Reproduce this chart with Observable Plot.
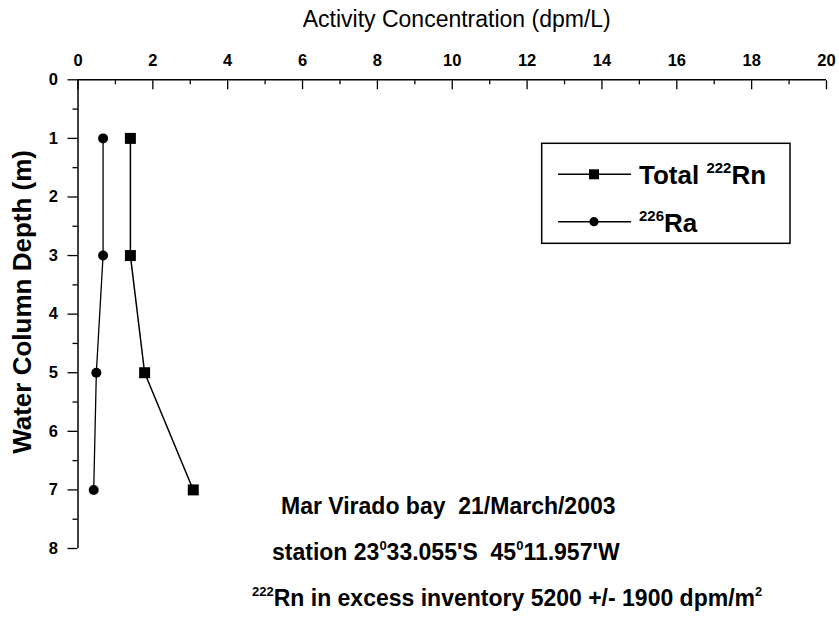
<!DOCTYPE html>
<html><head><meta charset="utf-8">
<script src="https://cdn.jsdelivr.net/npm/d3@7"></script>
<script src="https://cdn.jsdelivr.net/npm/@observablehq/plot@0.6"></script>
<style>
body{margin:0;background:#fff;}
#chart svg{display:block;}
</style></head><body><div id="chart"></div>
<script>
// ---- data ----
const depths = [1, 3, 5, 7];
const rnTotal = [1.40, 1.40, 1.78, 3.08];
const ra226 = [0.67, 0.67, 0.49, 0.42];
const xTicks = [0, 2, 4, 6, 8, 10, 12, 14, 16, 18, 20];
const xMinor = [1, 3, 5, 7, 9, 11, 13, 15, 17, 19];
const yTicks = [0, 1, 2, 3, 4, 5, 6, 7, 8];
const yMinor = [0.5, 1.5, 2.5, 3.5, 4.5, 5.5, 6.5, 7.5];
const xTitle = "Activity Concentration (dpm/L)";
const yTitle = "Water Column Depth (m)";
const legendRn = [{t: "Total "}, {t: "222", sup: true}, {t: "Rn"}];
const legendRa = [{t: "226", sup: true}, {t: "Ra"}];
const note1 = [{t: "Mar Virado bay  21/March/2003"}];
const note2 = [{t: "station 23"}, {t: "0", sup: true}, {t: "33.055'S  45"}, {t: "0", sup: true}, {t: "11.957'W"}];
const note3 = [{t: "222", sup: true}, {t: "Rn in excess inventory 5200 +/- 1900 dpm/m"}, {t: "2", sup: true}];

const rnRows = depths.map((d, i) => ({depth: d, value: rnTotal[i]}));
const raRows = depths.map((d, i) => ({depth: d, value: ra226[i]}));

const FONT = "'Liberation Sans', Arial, Helvetica, sans-serif";
const W = 839, H = 618;
const fmt = d => String(d);

const chart = Plot.plot({
  width: W, height: H,
  marginLeft: 77.5, marginRight: 13, marginTop: 79.3, marginBottom: 70,
  x: {domain: [0, 20], label: null},
  y: {domain: [0, 8], reverse: true, label: null},
  style: {fontFamily: FONT, fontSize: "16.5px", color: "#000", background: "#fff"},
  marks: [
    Plot.axisX(xTicks, {anchor: "top", tickSize: 0, tickPadding: 14, fontWeight: "bold", tickFormat: fmt, label: null}),
    Plot.axisX(xTicks, {anchor: "top", tickSize: -9, text: null, label: null, strokeWidth: 1.3}),
    Plot.axisX(xMinor, {anchor: "top", tickSize: -4, text: null, label: null, strokeWidth: 1.3}),
    Plot.axisY(yTicks, {anchor: "left", tickSize: 0, tickPadding: 20, fontWeight: "bold", tickFormat: fmt, label: null}),
    Plot.axisY(yTicks, {anchor: "left", tickSize: 10, text: null, label: null, strokeWidth: 1.3}),
    Plot.axisY(yMinor, {anchor: "left", tickSize: 5, text: null, label: null, strokeWidth: 1.3}),
    Plot.ruleY([0], {stroke: "#000", strokeWidth: 1.5}),
    Plot.ruleX([0], {stroke: "#000", strokeWidth: 1.5}),
    Plot.line(rnRows, {x: "value", y: "depth", stroke: "#000", strokeWidth: 1.5}),
    Plot.line(raRows, {x: "value", y: "depth", stroke: "#000", strokeWidth: 1.3}),
    Plot.dot(rnRows, {x: "value", y: "depth", symbol: "square", r: 6.2, fill: "#000", stroke: null}),
    Plot.dot(raRows, {x: "value", y: "depth", symbol: "circle", r: 5, fill: "#000", stroke: null})
  ]
});
document.getElementById("chart").appendChild(chart);

const svg = d3.select(chart);
const xs = chart.scale("x"), ys = chart.scale("y");
const g = svg.append("g").attr("font-family", FONT).attr("fill", "#000");

function rich(parent, x, y, parts, size, supSize, weight, anchor = "start") {
  const t = parent.append("text").attr("x", x).attr("y", y)
    .attr("font-size", size).attr("font-weight", weight).attr("text-anchor", anchor);
  const lift = size * 0.42;
  let up = false;
  for (const p of parts) {
    const ts = t.append("tspan").text(p.t);
    if (p.sup) {
      ts.attr("font-size", supSize);
      if (!up) ts.attr("dy", -lift);
      up = true;
    } else {
      if (up) ts.attr("dy", lift);
      up = false;
    }
  }
  return t;
}

// axis titles
const xMid = (xs.apply(0) + xs.apply(20)) / 2;
rich(g, xMid + 5, 27, [{t: xTitle}], 23, 14, "normal", "middle");
rich(g, 0, 0, [{t: yTitle}], 26, 16, "bold", "middle")
  .attr("transform", `translate(31,${ys.apply(3.8)}) rotate(-90)`);

// legend
const lg = g.append("g");
lg.append("rect").attr("x", 541.7).attr("y", 143.3).attr("width", 248.3).attr("height", 100)
  .attr("fill", "#fff").attr("stroke", "#000").attr("stroke-width", 1.5);
const rows = [{y: 174.3, sym: "square", parts: legendRn, base: 184},
              {y: 221.7, sym: "circle", parts: legendRa, base: 232}];
for (const r of rows) {
  lg.append("line").attr("x1", 558).attr("x2", 631).attr("y1", r.y).attr("y2", r.y)
    .attr("stroke", "#000").attr("stroke-width", 1.4);
  if (r.sym === "square") lg.append("rect").attr("x", 594 - 5).attr("y", r.y - 5).attr("width", 10).attr("height", 10);
  else lg.append("circle").attr("cx", 594).attr("cy", r.y).attr("r", 4.6);
  rich(lg, 639, r.base, r.parts, 26, 15, "bold");
}

// annotations
rich(g, 281, 514, note1, 23, 13, "bold");
rich(g, 272, 560, note2, 23, 13, "bold");
rich(g, 252, 606, note3, 23, 13, "bold");
</script></body></html>
